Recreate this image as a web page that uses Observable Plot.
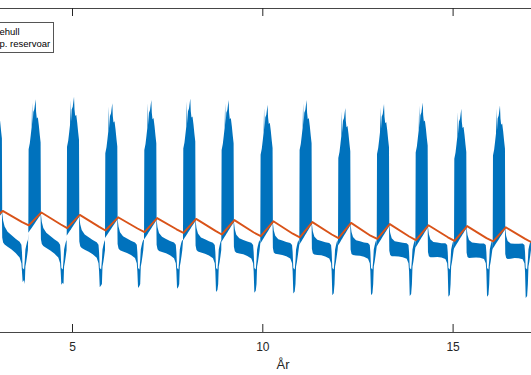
<!DOCTYPE html>
<html><head><meta charset="utf-8">
<script src="https://cdn.jsdelivr.net/npm/d3@7"></script>
<script src="https://cdn.jsdelivr.net/npm/@observablehq/plot@0.6"></script>
<style>
body{margin:0;background:#fff;}
#wrap{position:relative;width:531px;height:375px;overflow:hidden;background:#fff;font-family:"Liberation Sans",Arial,sans-serif;}
#legend{position:absolute;top:22px;left:-1px;width:55px;height:31px;box-sizing:border-box;border:1px solid #555;border-left:none;background:#fff;}
.row{position:absolute;left:0;height:12px;width:100%;}
.lab{position:absolute;left:0.5px;top:0;font-size:9.5px;line-height:12px;color:#000;white-space:nowrap;}
</style></head>
<body>
<div id="wrap">
  <div id="chart"></div>
  <div id="legend"></div>
</div>
<script>
// ---- data ----
// legend entries as visible in the (cropped) reference
const legendTexts = ["ehull", "p. reservoar"];
const xTicks = [5, 10, 15];
const xLabel = "År";
const xLimits = [3.108, 17.06];
const yLimits = [0, 40.5];

// start (years) of each yearly burst
const cycleStart = [2.835, 3.852, 4.861, 5.867, 6.892, 7.916, 8.923, 9.947, 10.972, 11.989, 13.006, 14.022, 15.037, 16.053, 17.070];
// highest spike of each burst
const burstTop = [29.6, 29.1, 29.4, 28.6, 29.0, 29.2, 29.0, 28.4, 29.0, 28.0, 28.5, 28.7, 27.9, 28.3];
// deepest point of each yearly dip
const troughBottom = [6.25, 5.9, 5.6, 5.5, 5.4, 5.0, 4.9, 4.8, 4.6, 4.6, 4.5, 4.4, 4.4, 4.25];
// reservoir temperature: minimum (at burst start), peak (at burst end), knee
const reservoirMin = [13.75, 13.4, 13.05, 12.75, 12.55, 12.45, 12.25, 12.05, 11.9, 11.8, 11.7, 11.55, 11.45, 11.4, 11.25];
const reservoirPeak = [15.2, 15.0, 14.7, 14.4, 14.3, 14.2, 14.05, 13.9, 13.8, 13.7, 13.55, 13.4, 13.3, 13.15];
const reservoirKnee = [13.8, 13.5, 13.2, 13.0, 12.9, 12.7, 12.5, 12.35, 12.25, 12.1, 12.0, 11.9, 11.8, 11.7];
const peakPhase = 0.331, kneePhase = 0.841;

// shape of one yearly cycle of the borehole series (phase in years after burst start)
const burstPhase = [0, 0.008, 0.039, 0.066, 0.087, 0.100, 0.113, 0.131, 0.158, 0.192, 0.205, 0.223, 0.250, 0.276, 0.302, 0.323];
const burstDrop  = [null, 6.25, 5.5, 4.4, 3.5, 0.4, 3.1, 1.6, 1.25, 0, 1.6, 2.4, 2.25, 3.25, 4.5, 5.4];
const bandPhase = [0.331, 0.355, 0.394, 0.473, 0.578, 0.683, 0.788, 0.835];
const bandHi    = [14.75, 13.75, 13.0, 12.4, 12.0, 11.6, 11.25, 10.9];
const bandLo    = [11.6, 11.0, 10.75, 10.5, 10.2, 9.8, 9.3, 8.6];
const troughPhase = [0.850, 0.868, 0.905, 0.925, 0.940, 0.962, 0.985, 1.006];
const troughHi    = [10.0, 8.0, 7.8, 9.0, 10.3, 10.8, 11.25, 11.5];
const troughLo    = [7.6, null, null, 6.0, 8.2, 8.75, 9.5, 10.25];

const blue = "#0072BD", orange = "#D95319", axisColor = "#262626";

// ---- build tables ----
const boreData = [];
const resData = [];
for (let k = 0; k < burstTop.length; k++) {
  const s = cycleStart[k], rMin = reservoirMin[k], rPeak = reservoirPeak[k];
  burstPhase.forEach((p, i) => {
    const floor = rMin + (rPeak - rMin) * p / peakPhase - (1.0 - 0.7 * p / 0.323);
    const hi = burstDrop[i] == null ? floor : burstTop[k] - burstDrop[i];
    boreData.push({t: s + p, lo: floor, hi});
  });
  bandPhase.forEach((p, i) => {
    const sh = (rPeak - reservoirPeak[1]) * Math.max(0, kneePhase - p) / (kneePhase - peakPhase);
    boreData.push({t: s + p, lo: bandLo[i] + sh, hi: bandHi[i] + sh});
  });
  troughPhase.forEach((p, i) => {
    const lo = troughLo[i] == null ? troughBottom[k] + (i === 2 ? 0.25 : 0) : troughLo[i];
    boreData.push({t: s + p, lo, hi: troughHi[i]});
  });
  resData.push({t: s, v: rMin}, {t: s + peakPhase, v: rPeak}, {t: s + kneePhase, v: reservoirKnee[k]});
}
resData.push({t: cycleStart[cycleStart.length - 1], v: reservoirMin[reservoirMin.length - 1]});

const chart = Plot.plot({
  width: 531, height: 375,
  marginTop: 8, marginBottom: 43, marginLeft: 0, marginRight: 0,
  x: {domain: xLimits},
  y: {domain: yLimits, axis: null},
  style: {fontFamily: "'Liberation Sans', Arial, sans-serif", fontSize: "12px", color: axisColor, background: "white"},
  marks: [
    Plot.areaY(boreData, {x: "t", y1: "lo", y2: "hi", fill: blue, clip: true}),
    Plot.line(resData, {x: "t", y: "v", stroke: orange, strokeWidth: 1.9, clip: true}),
    Plot.ruleY([yLimits[0]], {stroke: axisColor, strokeOpacity: 0.85}),
    Plot.ruleY([yLimits[1]], {stroke: axisColor, strokeOpacity: 0.85}),
    Plot.ruleX(xTicks, {insetTop: 316, stroke: axisColor}),
    Plot.ruleX(xTicks, {insetBottom: 316, stroke: axisColor}),
    Plot.axisX({ticks: xTicks, tickSize: 0, tickPadding: 10, fontSize: 12, label: null}),
    Plot.text([xLabel], {frameAnchor: "bottom", dy: 36, dx: 17, fontSize: 13, fill: axisColor})
  ]
});
document.getElementById("chart").appendChild(chart);

// legend (its left part is cropped away in the reference)
const legend = document.getElementById("legend");
legendTexts.forEach((name, i) => {
  const row = document.createElement("div");
  row.className = "row";
  row.style.top = (3 + i * 12) + "px";
  const lab = document.createElement("div");
  lab.className = "lab";
  lab.textContent = name;
  row.appendChild(lab);
  legend.appendChild(row);
});
</script>
</body></html>
